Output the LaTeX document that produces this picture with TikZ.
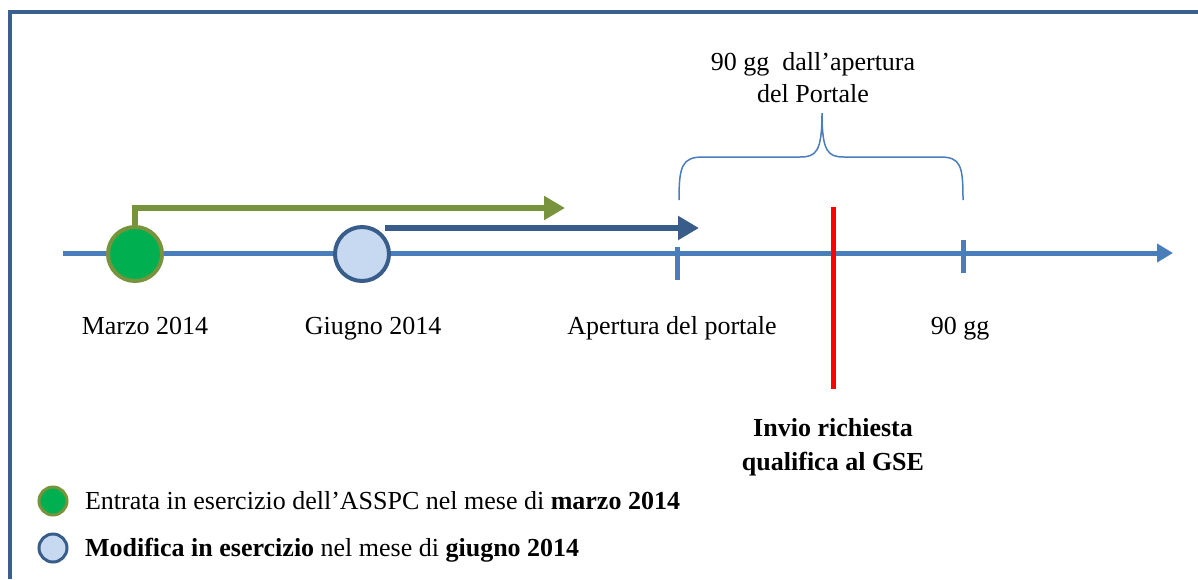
\documentclass[tikz,border=0pt]{standalone}
\usepackage{fontspec}
\setmainfont{Liberation Serif}
\usetikzlibrary{arrows.meta}
\definecolor{framecol}{HTML}{3B5F8E}
\definecolor{axiscol}{HTML}{4A7EBB}
\definecolor{greenfill}{HTML}{00B050}
\definecolor{olivecol}{HTML}{77933C}
\definecolor{lightblue}{HTML}{C6D9F1}
\definecolor{darkblue}{HTML}{385D8A}
\begin{document}
\begin{tikzpicture}[x=0.5pt,y=-0.5pt,
  font=\fontsize{13}{16}\selectfont,
  event/.style={circle,minimum size=27pt,inner sep=0pt,line width=2pt},
  keydot/.style={circle,minimum size=14pt,inner sep=0pt,line width=1.5pt},
  tickmark/.style={draw=axiscol,line width=2.5pt},
  lbl/.style={anchor=base}]
\useasboundingbox (0,0) rectangle (1198,579);

% frame
\draw[framecol,line width=2pt] (10,579) -- (10,12) -- (1198,12);

% time axis
\coordinate (start) at (63,253);
\coordinate (end) at (1173,253);
\draw[axiscol,line width=2.5pt,-{Triangle[length=8pt,width=9pt]}] (start) -- (end);
\coordinate (apertura) at (677,253);
\coordinate (novanta) at (963,253);
\draw[tickmark] ([yshift=3pt]apertura) -- ([yshift=-13.5pt]apertura);
\draw[tickmark] ([yshift=6.5pt]novanta) -- ([yshift=-10pt]novanta);

% request
\coordinate (invioTop) at (833,207);
\coordinate (invioBot) at (833,389);
\draw[red,line width=2.5pt] (invioTop) -- (invioBot);

% events
\node[event,fill=greenfill,draw=olivecol] (marzo) at (135,254) {};
\node[event,fill=lightblue,draw=darkblue] (giugno) at (362,254) {};

\coordinate (greenEnd) at (565,208);
\draw[olivecol,line width=3pt,-{Triangle[length=10.5pt,width=11.5pt]}] (marzo.north) |- (greenEnd);
\coordinate (blueStart) at (385,228);
\coordinate (blueEnd) at (699,228);
\draw[darkblue,line width=3pt,-{Triangle[length=10.5pt,width=11.5pt]}] (blueStart) -- (blueEnd);

% brace
\coordinate (braceL) at (679,200);
\coordinate (braceR) at (963,200);
\coordinate (braceTip) at (822,113);
\draw[axiscol,line width=0.75pt] (braceL) .. controls (679,166) and (682,157) .. (703,157) -- (800,157)
  .. controls (816,157) and (822,152) .. (braceTip)
  .. controls (822,152) and (828,157) .. (844,157) -- (940,157)
  .. controls (961,157) and (963,166) .. (braceR);
\node[align=center,anchor=base] (braceLbl) at (813,102) {90 gg\ \ dall’apertura\\del Portale};

% labels
\node[lbl] (marzoLbl) at (145,334) {Marzo 2014};
\node[lbl] (giugnoLbl) at (373,334) {Giugno 2014};
\node[lbl] (aperturaLbl) at (672,334) {Apertura del portale};
\node[lbl] (novantaLbl) at (960,334) {90 gg};
\node[align=center,anchor=base,font=\fontsize{13}{17}\selectfont\bfseries] (invioLbl) at (833,470)
  {Invio richiesta\\qualifica al GSE};

% legend
\node[keydot,fill=greenfill,draw=olivecol] (keyMarzo) at (53,501) {};
\node[keydot,fill=lightblue,draw=darkblue] (keyGiugno) at (53,548) {};
\node[anchor=base west] (keyMarzoLbl) at (78,509) {Entrata in esercizio dell’ASSPC nel mese di \textbf{marzo 2014}};
\node[anchor=base west] (keyGiugnoLbl) at (78,556) {\textbf{Modifica in esercizio} nel mese di \textbf{giugno 2014}};
\end{tikzpicture}
\end{document}
